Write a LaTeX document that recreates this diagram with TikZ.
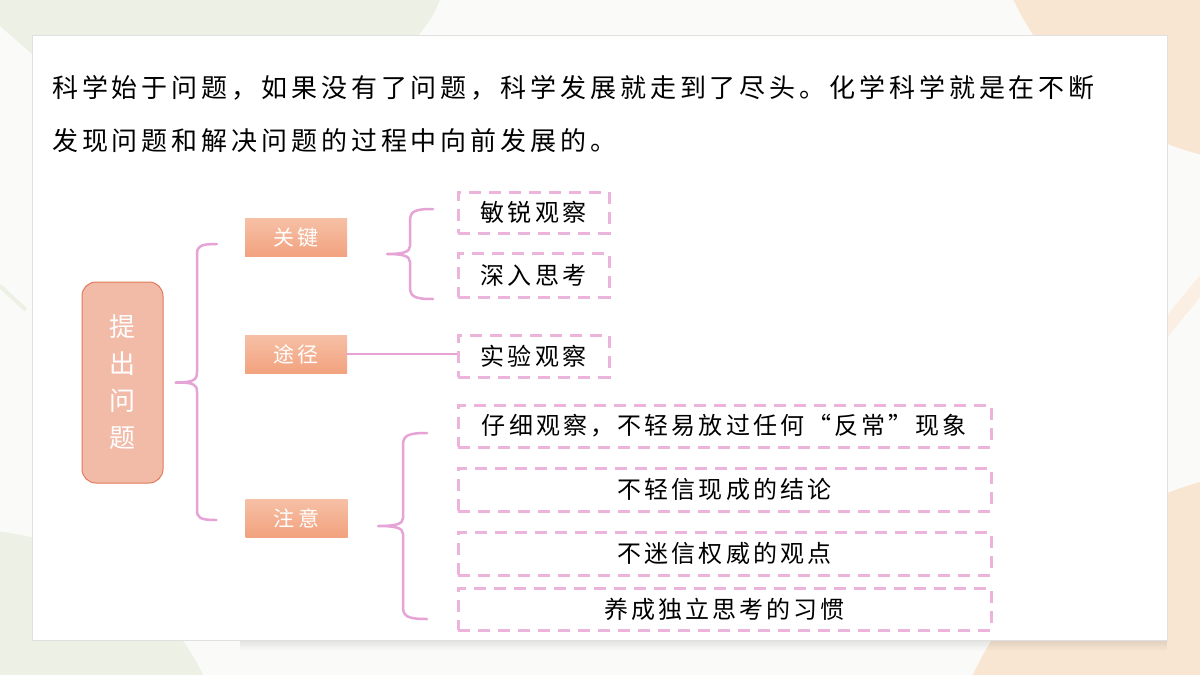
\documentclass[tikz,border=0pt]{standalone}
\usepackage{fontspec}
\setmainfont{Noto Sans CJK SC}
\usetikzlibrary{positioning,calc,fadings}

\definecolor{bgc}{RGB}{250,250,248}
\definecolor{leafg}{RGB}{237,241,229}
\definecolor{peach}{RGB}{248,229,210}
\definecolor{linkp}{RGB}{230,164,214}
\definecolor{dashp}{RGB}{236,180,218}
\definecolor{rootf}{RGB}{242,187,168}
\definecolor{rootd}{RGB}{226,122,90}
\definecolor{cattop}{RGB}{246,192,166}
\definecolor{catbot}{RGB}{242,162,126}

\begin{document}
\begin{tikzpicture}[x=1pt, y=-1pt,
    intro/.style={inner sep=0pt, font=\fontsize{26}{26}\selectfont\addfontfeature{LetterSpace=15}},
    root/.style={draw=rootd, fill=rootf, line width=1pt, rounded corners=14pt, minimum width=81pt, minimum height=201pt, text=white, align=center, font=\fontsize{26}{37}\selectfont},
    cat/.style={minimum width=102pt, minimum height=38pt, inner sep=0pt, top color=cattop, bottom color=catbot, text=white, font=\fontsize{21}{21}\selectfont\addfontfeature{LetterSpace=15}},
    opt/.style={draw=dashp, line width=3pt, dash pattern=on 12pt off 8pt, inner sep=0pt, minimum height=42pt, font=\fontsize{24}{24}\selectfont\addfontfeature{LetterSpace=13,RawFeature=+fwid}},
    brc/.style={draw=linkp, line width=2.5pt, line cap=round, line join=round}]
  \useasboundingbox (0,0) rectangle (1200,675);

  % background
  \fill[bgc] (0,0) rectangle (1200,675);
  \begin{scope}
    \clip (0,0) rectangle (1200,675);
    \fill[leafg] (0,0) -- (440,0) .. controls (432,18) .. (418,36) -- (32,36) -- (32,54) -- (0,26) -- cycle;
    \fill[leafg] (-30,790) circle (260);
    \draw[leafg, line width=4pt] (0,286) -- (26,310);
    \fill[peach] (1270,-120) circle (283);
    \fill[peach] (1300,830) circle (362);
    \draw[peach!60, line width=14pt] (1160,335) -- (1215,268);
  \end{scope}
  \fill[black, opacity=0.09, path fading=south] (240,640) rectangle (1167,651);
  \fill[white] (32,35) rectangle (1167,640);
  \draw[black!12, line width=0.8pt] (32,35) rectangle (1167,640);

  % intro text
  \node[intro, anchor=west] (line1) at (52,88) {科学始于问题，如果没有了问题，科学发展就走到了尽头。化学科学就是在不断};
  \node[intro, anchor=west] (line2) at (52,141) {发现问题和解决问题的过程中向前发展的。};

  % map
  \node[root] (root) at (122.5,382.5) {提\\出\\问\\题};
  \node[cat] (kw) at (296,237.5) {关键};
  \node[cat] (way) at (296,354) {途径};
  \node[cat] (att) at (296.5,518) {注意};

  \node[opt, minimum width=151pt, minimum height=41pt] (obs1) at (533.5,212.5) {敏锐观察};
  \node[opt, minimum width=151pt, minimum height=44pt, below=17pt of obs1] (obs2) {深入思考};
  \node[opt, minimum width=151pt] (obs3) at (533.5,356) {实验观察};

  \node[opt, minimum width=533pt] (n1) at (724.5,426) {仔细观察，不轻易放过任何“反常”现象};
  \node[opt, minimum width=533pt, minimum height=43pt, below=18pt of n1] (n2) {不轻信现成的结论};
  \node[opt, minimum width=533pt, minimum height=43pt, below=18pt of n2] (n3) {不迷信权威的观点};
  \node[opt, minimum width=533pt, below=10pt of n3] (n4) {养成独立思考的习惯};

  % braces
  \coordinate (b1top) at ($(kw.west)+(-28,6.5)$);
  \coordinate (b1tip) at ($(root.east)+(12,0)$);
  \coordinate (b1bot) at ($(att.west)+(-29,2)$);
  \draw[brc] (b1top) .. controls +(-16,0) and +(0,-8) .. (197,254) -- (197,372)
    .. controls +(0,8) and +(18,0) .. (b1tip) .. controls +(18,0) and +(0,-8) .. (197,392)
    -- (197,510) .. controls +(0,8) and +(-16,0) .. (b1bot);

  \coordinate (b2top) at (433,209);
  \coordinate (b2tip) at (387,254);
  \coordinate (b2bot) at (433,299);
  \draw[brc] (b2top) .. controls +(-18,0) and +(0,-10) .. (410,221) -- (410,246)
    .. controls +(0,6) and +(16,0) .. (b2tip) .. controls +(16,0) and +(0,-6) .. (410,262)
    -- (410,287) .. controls +(0,10) and +(-18,0) .. (b2bot);

  \coordinate (b3top) at (427,433);
  \coordinate (b3tip) at (378,526);
  \coordinate (b3bot) at (427,619);
  \draw[brc] (b3top) .. controls +(-18,0) and +(0,-10) .. (403,445) -- (403,518)
    .. controls +(0,6) and +(18,0) .. (b3tip) .. controls +(18,0) and +(0,-6) .. (403,534)
    -- (403,607) .. controls +(0,10) and +(-18,0) .. (b3bot);

  \draw[brc] (way.east) -- (way.east -| obs3.west);
\end{tikzpicture}
\end{document}
